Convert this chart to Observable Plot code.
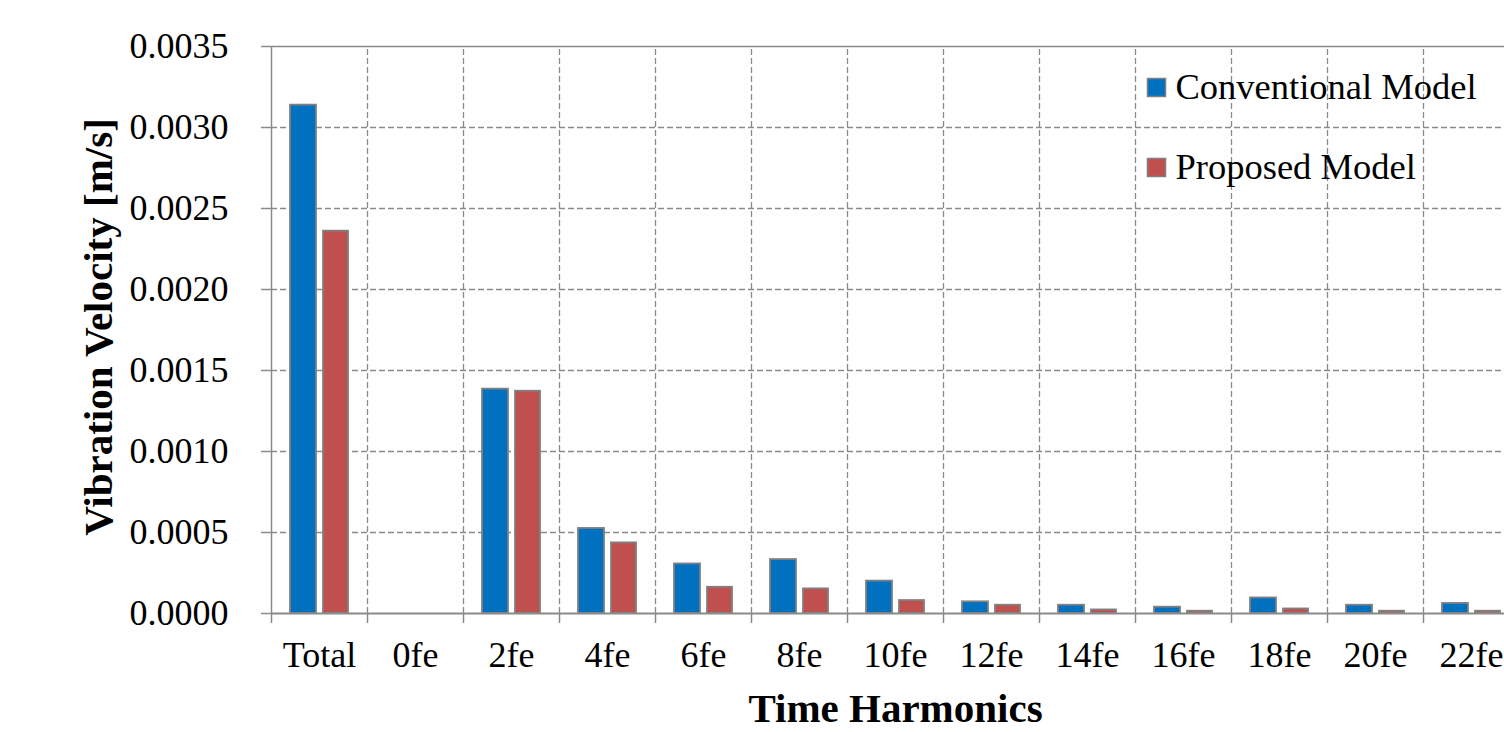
<!DOCTYPE html>
<html>
<head>
<meta charset="utf-8">
<script src="https://cdn.jsdelivr.net/npm/d3@7"></script>
<script src="https://cdn.jsdelivr.net/npm/@observablehq/plot@0.6"></script>
<style>
  html, body { margin: 0; padding: 0; background: #fff; overflow: hidden; }
  svg { display: block; }
</style>
</head>
<body>
<div id="chart"></div>
<script>
const categories = ["Total", "0fe", "2fe", "4fe", "6fe", "8fe", "10fe", "12fe", "14fe", "16fe", "18fe", "20fe", "22fe"];
const series = ["Conventional Model", "Proposed Model"];
const conventional = [0.003138, 0, 0.001385, 0.000525, 0.000306, 0.000333, 0.000200, 0.000072, 0.000051, 0.000039, 0.000096, 0.000051, 0.000062];
const proposed     = [0.002360, 0, 0.001372, 0.000436, 0.000162, 0.000152, 0.000080, 0.000051, 0.000022, 0.000014, 0.000028, 0.000014, 0.000014];
const yTicks = [0, 0.0005, 0.0010, 0.0015, 0.0020, 0.0025, 0.0030, 0.0035];
const colors = ["#0070C0", "#C0504D"];

const rowsConv = categories.map((c, i) => ({category: c, series: series[0], value: conventional[i]}));
const rowsProp = categories.map((c, i) => ({category: c, series: series[1], value: proposed[i]}));

const font = "Liberation Serif, Times New Roman, serif";
const grid = "#8a8a8a";
const halfBand = -48;

const chart = Plot.plot({
  width: 1504,
  height: 732,
  marginLeft: 271,
  marginRight: -15,
  marginTop: 46,
  marginBottom: 119,
  style: {fontFamily: font, fontSize: "36px", color: "#000", background: "#fff"},
  x: {domain: categories, padding: 0},
  y: {domain: [0, 0.0035]},
  color: {domain: series, range: colors},
  marks: [
    // horizontal dashed gridlines
    Plot.ruleY(yTicks.slice(1, -1), {stroke: grid, strokeWidth: 1.3, strokeDasharray: "6,3"}),
    // vertical dashed gridlines at category boundaries
    Plot.ruleX(categories.slice(1), {x: d => d, dx: halfBand, y1: 0, y2: 0.0035, stroke: grid, strokeWidth: 1.3, strokeDasharray: "6,3"}),
    // top solid line and left axis line
    Plot.ruleY([0.0035], {stroke: grid, strokeWidth: 1.5}),
    Plot.ruleX([categories[0]], {x: d => d, dx: halfBand, y1: 0, y2: 0.0035, stroke: grid, strokeWidth: 1.5}),
    // bars
    Plot.barY(rowsConv, {x: "category", y: "value", fill: "series", insetLeft: 19, insetRight: 51, stroke: "#808080", strokeWidth: 1.8}),
    Plot.barY(rowsProp, {x: "category", y: "value", fill: "series", insetLeft: 52, insetRight: 19, stroke: "#808080", strokeWidth: 1.8}),
    // bottom axis line
    Plot.ruleY([0], {stroke: grid, strokeWidth: 1.8}),
    // y axis
    Plot.axisY({ticks: yTicks, tickFormat: d3.format(".4f"), tickSize: 10, tickPadding: 33, stroke: grid, strokeWidth: 1.5, label: null, fontSize: 36, fill: "#000"}),
    // x axis tick marks at band boundaries
    Plot.axisX({tickSize: 10, dx: halfBand, text: null, stroke: grid, strokeWidth: 1.5, label: null}),
    // x axis labels
    Plot.axisX({tickSize: 0, tickPadding: 28, label: null, fontSize: 36, fill: "#000"}),
    // axis titles
    Plot.text(["Time Harmonics"], {frameAnchor: "bottom", dy: 95, text: d => d, fontSize: 41, fontWeight: "bold", textAnchor: "middle", lineAnchor: "middle", fill: "#000"}),
    Plot.text(["Vibration Velocity [m/s]"], {frameAnchor: "left", dx: -173, dy: -3, rotate: -90, text: d => d, fontSize: 41, fontWeight: "bold", textAnchor: "middle", lineAnchor: "middle", fill: "#000"}),
    // legend
    Plot.dot([series[0]], {frameAnchor: "top-left", dx: 885, dy: 41, symbol: "square", r: 10.2, fill: d => d, stroke: "#808080", strokeWidth: 1.5}),
    Plot.dot([series[1]], {frameAnchor: "top-left", dx: 885, dy: 121, symbol: "square", r: 10.2, fill: d => d, stroke: "#808080", strokeWidth: 1.5}),
    Plot.text([series[0]], {frameAnchor: "top-left", dx: 904, dy: 41, text: d => d, textAnchor: "start", lineAnchor: "middle", fontSize: 36.5, fill: "#000"}),
    Plot.text([series[1]], {frameAnchor: "top-left", dx: 904, dy: 121, text: d => d, textAnchor: "start", lineAnchor: "middle", fontSize: 36.5, fill: "#000"})
  ]
});
document.getElementById("chart").appendChild(chart);
</script>
</body>
</html>
